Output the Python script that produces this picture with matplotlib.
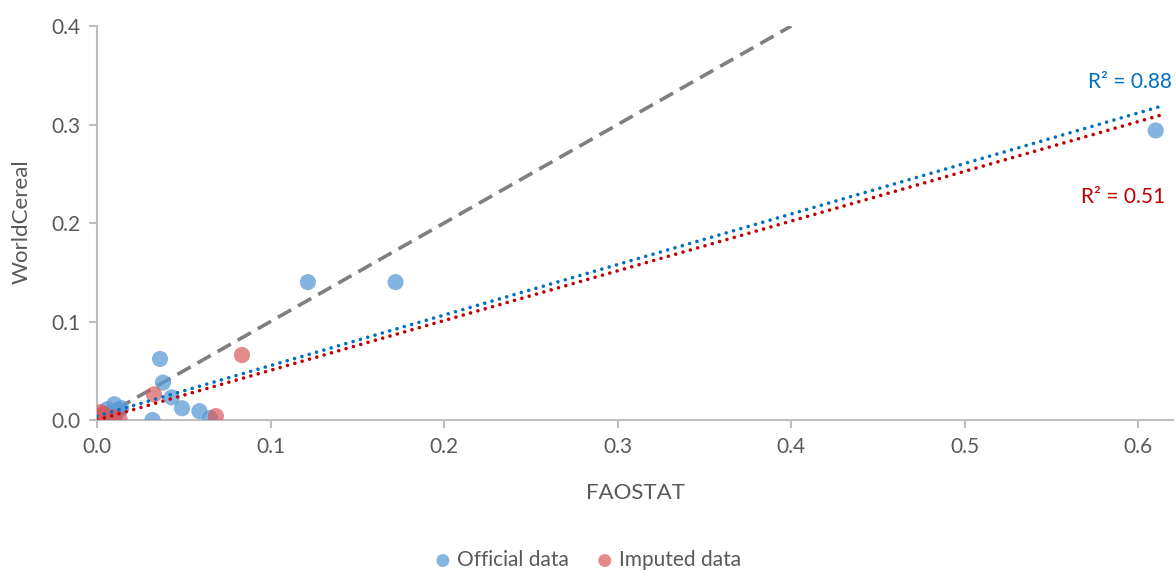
import numpy as np
import matplotlib.pyplot as plt

plt.rcParams['font.family'] = ['Lato', 'DejaVu Sans']

# official data (FAOSTAT, WorldCereal)
off_x = [0.610, 0.1215, 0.172, 0.0363, 0.038, 0.043, 0.049, 0.059, 0.032, 0.065,
         0.002, 0.004, 0.006, 0.008, 0.010, 0.012, 0.014, 0.009, 0.005, 0.003, 0.011]
off_y = [0.294, 0.140, 0.140, 0.062, 0.038, 0.023, 0.012, 0.009, 0.000, 0.002,
         0.003, 0.006, 0.011, 0.005, 0.016, 0.010, 0.012, 0.002, 0.000, 0.001, 0.007]
# imputed data
imp_x = [0.0835, 0.0328, 0.0685, 0.013, 0.000, 0.001, 0.002, 0.004, 0.010]
imp_y = [0.066, 0.026, 0.004, 0.001, 0.001, 0.004, 0.008, 0.006, 0.003]

# linear trend lines: slope, intercept
off_trend = [0.513, 0.004]
imp_trend = [0.505, 0.0]
trend_end = 0.612
r2_off = 0.88
r2_imp = 0.51

fig = plt.figure(figsize=(11.76, 5.72), dpi=100)
ax = fig.add_axes([0.0825, 0.2657, 0.915, 0.6888])

gray = '#595959'
ax.scatter(off_x, off_y, s=135, color='#5B9BD5', alpha=0.75, edgecolors='none',
           label='Official data', zorder=3)
ax.scatter(imp_x, imp_y, s=135, color='#D9575B', alpha=0.7, edgecolors='none',
           label='Imputed data', zorder=3)

ax.plot([0, 0.4], [0, 0.4], color='#7F7F7F', lw=2.6, ls=(0, (4.2, 2.2)), zorder=2)

tx = np.array([0, trend_end])
ax.plot(tx, off_trend[0] * tx + off_trend[1], color='#0070C0', lw=2.6,
        ls=(0, (0.01, 2.1)), dash_capstyle='round', zorder=4)
ax.plot(tx, imp_trend[0] * tx + imp_trend[1], color='#C00000', lw=2.6,
        ls=(0, (0.01, 2.1)), dash_capstyle='round', zorder=4)

fig.text(1130 / 1176, 1 - 82 / 572, 'R² = %.2f' % r2_off, color='#0070C0',
         fontsize=15, ha='center', va='center')
fig.text(1123 / 1176, 1 - 197 / 572, 'R² = %.2f' % r2_imp, color='#C00000',
         fontsize=15, ha='center', va='center')

ax.set_xlim(0, 0.62)
ax.set_ylim(0, 0.4)
ax.set_xticks(np.arange(0, 0.61, 0.1))
ax.set_yticks(np.arange(0, 0.41, 0.1))
ax.xaxis.set_major_formatter(plt.FormatStrFormatter('%.1f'))
ax.yaxis.set_major_formatter(plt.FormatStrFormatter('%.1f'))
for s in ['top', 'right']:
    ax.spines[s].set_visible(False)
for s in ['left', 'bottom']:
    ax.spines[s].set_color('#BFBFBF')
    ax.spines[s].set_linewidth(1.5)
ax.tick_params(colors='#BFBFBF', labelcolor=gray, labelsize=15, length=6, width=1.5, pad=6)

fig.text(635 / 1176, 1 - 493 / 572, 'FAOSTAT', color=gray, fontsize=16, ha='center', va='center')
fig.text(22 / 1176, 1 - 222 / 572, 'WorldCereal', color=gray, fontsize=16,
         ha='center', va='center', rotation=90)

fig.legend(loc='center', bbox_to_anchor=(0.5, 1 - 560 / 572), ncol=2, frameon=False,
           fontsize=15, labelcolor=gray, handlelength=0.8, handletextpad=0.3,
           columnspacing=1.3, markerscale=0.8)

fig.savefig('out.png')
